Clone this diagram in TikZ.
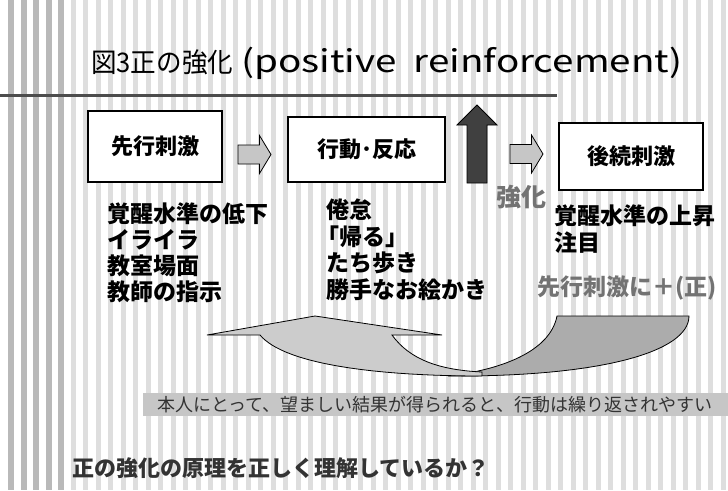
\documentclass[tikz,border=0pt]{standalone}
\usepackage{fontspec}
\usepackage{graphicx}
\setmainfont{Noto Sans CJK JP}
\begin{document}
\begin{tikzpicture}[x=1pt,y=-1pt,
  box/.style={draw=black, line width=1.2pt, fill=white, inner sep=0pt,
    font=\fontsize{22}{22}\selectfont\bfseries},
  body/.style={anchor=west, inner sep=0pt, font=\fontsize{23}{23}\selectfont\bfseries},
  greytxt/.style={anchor=west, inner sep=0pt, text=black!55, font=\fontsize{23}{23}\selectfont\bfseries},
  ribbon/.style={draw=black, line width=0.8pt},
  blockarrow/.pic={\filldraw[draw=black, line width=0.8pt, fill=gray!45]
    (-16.5,-9.5) -- (5,-9.5) -- (5,-19) -- (16.5,0) -- (5,19) -- (5,9.5) -- (-16.5,9.5) -- cycle;},
  bigup/.pic={\filldraw[draw=black, line width=0.8pt, fill=black!75]
    (0,-39) -- (20,-19) -- (10,-19) -- (10,39) -- (-10,39) -- (-10,-19) -- (-20,-19) -- cycle;}
]
% background
\fill[white] (0,0) rectangle (728,490);
\useasboundingbox (0,0) rectangle (728,490);
\foreach \i in {0,...,4} {
  \fill[gray!55] ({8+12.5*\i},0) rectangle ({14+12.5*\i},490);
}
\foreach \i in {5,...,57} {
  \fill[gray!26] ({8+12.5*\i},0) rectangle ({13+12.5*\i},490);
}
% title
\node[anchor=base west, inner sep=0pt, font=\fontsize{27}{27}\selectfont] (titleA) at (91,72)
  {\resizebox{142pt}{\height}{図3正の強化}};
\node[anchor=base west, inner sep=0pt, font=\fontsize{31}{31}\selectfont] (titleB) at (241,72)
  {\resizebox{441pt}{\height}{(positive\ \ reinforcement)}};
\draw[black!70, line width=3pt] (0,95) -- (557,95);
% boxes
\node[box, minimum width=134pt, minimum height=71pt] (b1) at (155,146.5) {先行刺激};
\node[box, minimum width=157pt, minimum height=65pt] (b2) at (366.5,149.5) {行動･反応};
\node[box, minimum width=144pt, minimum height=67pt] (b3) at (631,156.5) {後続刺激};
% block arrows
\coordinate (a1) at (254.5,154.5);
\coordinate (a2) at (526.5,154);
\coordinate (up) at (477,144);
\pic at (a1) {blockarrow};
\pic at (a2) {blockarrow};
\pic at (up) {bigup};
\node[anchor=west, inner sep=0pt, text=black!55, font=\fontsize{25}{25}\selectfont\bfseries] (kyo) at (496,197) {強化};
% left text
\node[body] (l1) at (107,214) {覚醒水準の低下};
\node[body] (l2) at (107,240) {イライラ};
\node[body] (l3) at (107,266) {教室場面};
\node[body] (l4) at (107,292) {教師の指示};
% middle text
\node[body] (m1) at (326,210) {倦怠};
\node[body] (m2) at (316,237) {「帰る」};
\node[body] (m3) at (326,263) {たち歩き};
\node[body] (m4) at (326,290) {勝手なお絵かき};
% right text
\node[body] (r1) at (554,216) {覚醒水準の上昇};
\node[body] (r2) at (554,243) {注目};
\node[greytxt] (r3) at (537,288) {先行刺激に＋(正)};
% curved arrow: right ribbon (darker)
\filldraw[ribbon, fill=gray!65] (557,316) -- (689,316)
  .. controls (689,352) and (600,377) .. (448,376)
  .. controls (500,370) and (550,352) .. (557,316) -- cycle;
% left ribbon with arrowhead (lighter)
\filldraw[ribbon, fill=gray!40] (207,335) -- (315,316) -- (442,335) -- (392,335)
  .. controls (410,360) and (440,370) .. (482,372)
  -- (482,376)
  .. controls (380,376) and (285,365) .. (260,335) -- cycle;
% band with sentence
\fill[gray!45] (143,393) rectangle (728,416);
\node[anchor=west, inner sep=0pt, text=black!80, font=\fontsize{18}{18}\selectfont] (note) at (157,405)
  {本人にとって、望ましい結果が得られると、行動は繰り返されやすい};
% bottom question
\node[anchor=west, inner sep=0pt, text=black!80, font=\fontsize{22}{22}\selectfont\bfseries] (q) at (72,468)
  {正の強化の原理を正しく理解しているか？};
\end{tikzpicture}
\end{document}
